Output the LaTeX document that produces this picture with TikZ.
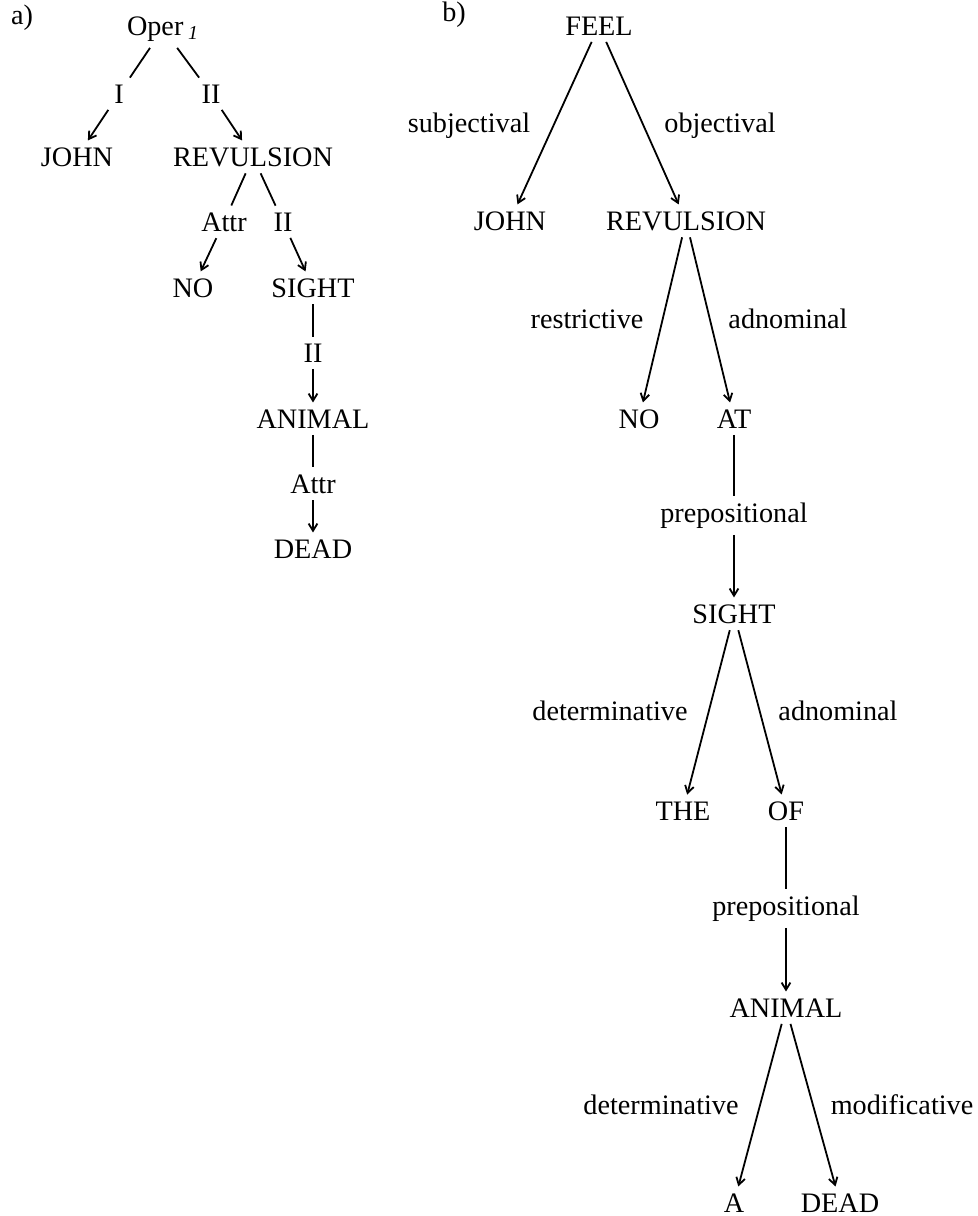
\documentclass[tikz,border=0pt]{standalone}
\usepackage{fontspec}
\setmainfont{Liberation Serif}
\usetikzlibrary{arrows.meta}
\begin{document}
\begin{tikzpicture}[x=0.5pt, y=-0.5pt, line width=0.9pt,
    >={Straight Barb[length=3.6pt,width=4.4pt]},
    word/.style={anchor=base, inner sep=3pt, font=\fontsize{14.1}{17}\selectfont}]
    \useasboundingbox (0,0) rectangle (978,1216);
    % Panel labels
    \node[word] (pa) at (22,24) {a)};
    \node[word] (pb) at (454,21) {b)};
    % Tree a)
    \node[word] (aoper) at (163,35) {Oper\,\textsubscript{\itshape 1}};
    \node[word] (ai) at (119,103) {I};
    \node[word] (aii) at (211,103) {II};
    \node[word] (ajohn) at (77,166) {JOHN};
    \node[word] (arev) at (253,166) {REVULSION};
    \node[word] (aattr) at (224,231) {Attr};
    \node[word] (aii2) at (283,231) {II};
    \node[word] (ano) at (193,297) {NO};
    \node[word] (asight) at (313,297) {SIGHT};
    \node[word] (aii3) at (313,362) {II};
    \node[word] (aanimal) at (313,428) {ANIMAL};
    \node[word] (aattr2) at (313,493) {Attr};
    \node[word] (adead) at (313,558) {DEAD};
    \draw (aoper) -- (ai);
    \draw[->] (ai) -- (ajohn);
    \draw (aoper) -- (aii);
    \draw[->] (aii) -- (arev);
    \draw (arev) -- (aattr);
    \draw[->] (aattr) -- (ano);
    \draw (arev) -- (aii2);
    \draw[->] (aii2) -- (asight);
    \draw (asight) -- (aii3);
    \draw[->] (aii3) -- (aanimal);
    \draw (aanimal) -- (aattr2);
    \draw[->] (aattr2) -- (adead);
    % Tree b)
    \node[word] (bfeel) at (599,35) {FEEL};
    \node[word] (bjohn) at (510,230) {JOHN};
    \node[word] (brev) at (686,230) {REVULSION};
    \node[word] (bno) at (639,428) {NO};
    \node[word] (bat) at (734,428) {AT};
    \node[word] (bprep) at (734,522) {prepositional};
    \node[word] (bsight) at (734,623) {SIGHT};
    \node[word] (bthe) at (683,820) {THE};
    \node[word] (bof) at (786,820) {OF};
    \node[word] (bprep2) at (786,915) {prepositional};
    \node[word] (banimal) at (786,1017) {ANIMAL};
    \node[word] (ba) at (734,1212) {A};
    \node[word] (bdead) at (840,1212) {DEAD};
    % Relation names beside the arrows
    \node[word] (lsubj) at (469,132) {subjectival};
    \node[word] (lobj) at (720,132) {objectival};
    \node[word] (lrestr) at (587,328) {restrictive};
    \node[word] (ladn) at (788,328) {adnominal};
    \node[word] (ldet) at (610,720) {determinative};
    \node[word] (ladn2) at (838,720) {adnominal};
    \node[word] (ldet2) at (661,1114) {determinative};
    \node[word] (lmod) at (902,1114) {modificative};
    \draw[->] (bfeel) -- (bjohn);
    \draw[->] (bfeel) -- (brev);
    \draw[->] (brev) -- (bno);
    \draw[->] (brev) -- (bat);
    \draw (bat) -- (bprep);
    \draw[->] (bprep) -- (bsight);
    \draw[->] (bsight) -- (bthe);
    \draw[->] (bsight) -- (bof);
    \draw (bof) -- (bprep2);
    \draw[->] (bprep2) -- (banimal);
    \draw[->] (banimal) -- (ba);
    \draw[->] (banimal) -- (bdead);
\end{tikzpicture}
\end{document}
